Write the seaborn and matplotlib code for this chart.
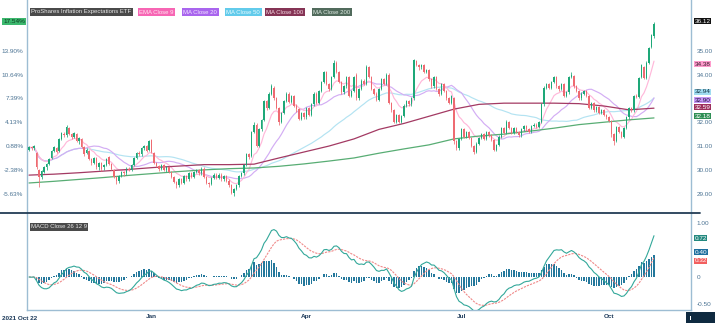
import numpy as np
import pandas as pd
import matplotlib
matplotlib.use("Agg")
import matplotlib.pyplot as plt
import seaborn as sns
from matplotlib.patches import Rectangle

# ---------------- data ----------------
opens = [30.85, 30.95, 30.9, 30.7, 30.0, 29.7, 29.9, 30.1, 30.25, 30.5,
         30.8, 30.9, 30.8, 31.3, 31.5, 31.45, 31.75, 31.5, 31.4, 31.5,
         31.2, 31.3, 30.95, 30.7, 30.8, 30.45, 30.3, 30.5, 30.1, 30.3,
         30.1, 30.2, 30.55, 30.25, 30.0, 29.7, 29.55, 29.75, 29.9, 29.85,
         30.05, 30.0, 30.2, 30.5, 30.7, 30.65, 30.9, 31.0, 30.85, 31.25,
         30.7, 30.3, 30.15, 30.05, 30.2, 30.0, 30.1, 29.9, 29.7, 29.5,
         29.35, 29.6, 29.45, 29.75, 29.6, 29.85, 29.7, 29.9, 30.0, 29.85,
         30.05, 29.7, 29.45, 29.4, 29.65, 29.8, 29.65, 29.8, 29.6, 29.75,
         29.55, 29.35, 29.05, 29.2, 29.35, 29.75, 29.85, 30.2, 30.65, 30.6,
         31.6, 31.9, 31.0, 31.7, 32.1, 32.9, 32.6, 33.2, 33.45, 33.0,
         32.6, 32.0, 32.4, 32.9, 33.2, 32.85, 33.1, 32.7, 32.55, 32.15,
         32.4, 32.2, 32.6, 32.3, 32.75, 33.2, 32.8, 33.3, 33.7, 34.1,
         33.6, 33.4, 33.9, 34.5, 34.1, 33.7, 33.25, 33.5, 33.9, 33.1,
         33.3, 34.0, 33.0, 33.4, 33.75, 33.6, 34.3, 33.9, 33.4, 33.2,
         32.95, 33.4, 33.8, 33.6, 34.0, 32.8, 32.5, 32.0, 32.3, 32.0,
         32.25, 32.7, 32.9, 32.75, 33.0, 34.55, 34.4, 34.3, 34.4, 34.1,
         34.2, 33.8, 33.5, 33.9, 33.4, 33.2, 33.6, 33.3, 33.0, 32.8,
         33.0, 31.2, 30.9, 31.3, 31.7, 31.4, 31.6, 31.35, 31.0, 30.75,
         31.1, 31.35, 31.5, 31.3, 31.6, 31.45, 31.25, 30.85, 31.05, 31.4,
         31.75, 31.55, 32.0, 31.75, 31.55, 31.75, 31.6, 31.45, 31.7, 31.85,
         31.7, 31.6, 31.85, 31.9, 31.8, 32.0, 32.75, 33.45, 33.6, 33.45,
         33.7, 33.9, 33.5, 33.4, 33.6, 33.1, 33.25, 33.9, 33.95, 33.5,
         33.3, 33.0, 33.2, 33.3, 33.1, 32.6, 32.8, 32.5, 32.65, 32.4,
         32.5, 32.3, 32.2, 32.05, 31.5, 31.2, 31.8, 31.6, 31.4, 31.75,
         32.2, 32.6, 32.5, 33.1, 33.05, 33.9, 34.3, 33.85, 34.5, 35.15,
         35.6]
closes = [30.95, 30.9, 31.0, 30.1, 29.7, 29.95, 30.1, 30.25, 30.45, 30.8,
          30.95, 30.75, 31.3, 31.55, 31.45, 31.8, 31.5, 31.4, 31.55, 31.2,
          31.35, 30.95, 30.65, 30.85, 30.45, 30.3, 30.5, 30.1, 30.3, 30.05,
          30.2, 30.45, 30.25, 30.05, 29.7, 29.55, 29.75, 29.9, 29.85, 30.05,
          30.0, 30.2, 30.5, 30.7, 30.65, 30.9, 31.0, 30.8, 31.2, 30.75,
          30.3, 30.15, 30.05, 30.2, 30.0, 30.1, 29.9, 29.7, 29.5, 29.35,
          29.6, 29.45, 29.75, 29.6, 29.85, 29.7, 29.9, 30.0, 29.85, 30.05,
          29.7, 29.45, 29.4, 29.65, 29.8, 29.65, 29.8, 29.6, 29.75, 29.55,
          29.35, 29.05, 29.2, 29.35, 29.75, 29.85, 30.2, 30.65, 30.55, 31.6,
          31.9, 31.0, 31.7, 32.1, 32.9, 32.6, 33.2, 33.5, 33.0, 32.6,
          32.0, 32.4, 32.9, 33.2, 32.85, 33.1, 32.7, 32.55, 32.15, 32.4,
          32.2, 32.6, 32.3, 32.75, 33.2, 32.8, 33.3, 33.7, 34.1, 33.6,
          33.4, 33.9, 34.5, 34.1, 33.7, 33.25, 33.5, 33.9, 33.1, 33.3,
          33.9, 33.0, 33.4, 33.75, 33.6, 34.3, 33.9, 33.4, 33.2, 32.95,
          33.4, 33.8, 33.6, 34.0, 32.8, 32.5, 32.0, 32.3, 32.0, 32.25,
          32.7, 32.9, 32.75, 33.0, 34.6, 34.4, 34.3, 34.4, 34.1, 34.2,
          33.8, 33.5, 33.9, 33.4, 33.2, 33.6, 33.3, 33.0, 32.8, 33.1,
          31.2, 30.9, 31.3, 31.7, 31.4, 31.6, 31.35, 31.0, 30.75, 31.1,
          31.35, 31.5, 31.3, 31.6, 31.45, 31.25, 30.85, 31.05, 31.4, 31.75,
          31.55, 32.0, 31.75, 31.55, 31.75, 31.6, 31.45, 31.7, 31.85, 31.7,
          31.6, 31.85, 31.9, 31.8, 32.0, 32.75, 33.45, 33.6, 33.45, 33.7,
          33.9, 33.5, 33.4, 33.6, 33.1, 33.25, 33.9, 34.0, 33.5, 33.3,
          33.0, 33.2, 33.3, 33.1, 32.6, 32.8, 32.5, 32.65, 32.4, 32.5,
          32.3, 32.2, 32.05, 31.5, 31.2, 31.8, 31.6, 31.4, 31.75, 32.2,
          32.6, 32.5, 33.1, 33.05, 33.85, 34.4, 33.85, 34.5, 35.1, 35.65,
          36.12]
highs = [31.0, 31.0, 31.05, 30.75, 30.05, 30.0, 30.15, 30.3, 30.5, 30.85,
         31.0, 30.95, 31.35, 31.6, 31.6, 31.9, 31.8, 31.55, 31.6, 31.55,
         31.4, 31.35, 31.0, 30.9, 30.85, 30.5, 30.55, 30.55, 30.35, 30.35,
         30.25, 30.5, 30.6, 30.3, 30.05, 29.75, 29.8, 29.95, 29.95, 30.1,
         30.1, 30.25, 30.55, 30.75, 30.8, 30.95, 31.05, 31.05, 31.25, 31.3,
         30.75, 30.35, 30.2, 30.25, 30.25, 30.15, 30.15, 29.95, 29.75, 29.55,
         29.65, 29.65, 29.8, 29.8, 29.9, 29.9, 29.95, 30.05, 30.05, 30.1,
         30.1, 29.75, 29.5, 29.7, 29.85, 29.85, 29.85, 29.85, 29.8, 29.8,
         29.6, 29.4, 29.25, 29.4, 29.8, 29.9, 30.25, 30.7, 30.7, 31.65,
         32.0, 31.95, 31.75, 32.15, 32.95, 32.95, 33.25, 33.6, 33.5, 33.05,
         32.65, 32.45, 32.95, 33.25, 33.25, 33.15, 33.15, 32.75, 32.6, 32.45,
         32.45, 32.65, 32.65, 32.8, 33.25, 33.25, 33.35, 33.75, 34.15, 34.15,
         33.65, 33.95, 34.6, 34.55, 34.15, 33.75, 33.55, 33.95, 33.95, 33.35,
         33.95, 34.05, 33.45, 33.8, 33.8, 34.4, 34.35, 33.95, 33.45, 33.25,
         33.45, 33.85, 33.85, 34.05, 34.05, 32.85, 32.55, 32.35, 32.35, 32.3,
         32.75, 32.95, 32.95, 33.05, 34.65, 34.6, 34.45, 34.45, 34.45, 34.25,
         34.25, 33.85, 33.95, 33.95, 33.45, 33.65, 33.65, 33.35, 33.05, 33.15,
         33.05, 31.25, 31.35, 31.75, 31.75, 31.65, 31.65, 31.4, 31.05, 31.15,
         31.4, 31.55, 31.55, 31.65, 31.65, 31.5, 31.3, 31.1, 31.45, 31.8,
         31.8, 32.1, 32.05, 31.8, 31.8, 31.8, 31.65, 31.75, 31.9, 31.9,
         31.75, 31.9, 31.95, 31.95, 32.05, 32.8, 33.5, 33.65, 33.65, 33.75,
         33.95, 33.95, 33.55, 33.65, 33.65, 33.3, 33.95, 34.1, 34.0, 33.55,
         33.35, 33.25, 33.35, 33.35, 33.15, 32.85, 32.85, 32.7, 32.7, 32.55,
         32.55, 32.35, 32.25, 32.1, 31.55, 31.85, 31.85, 31.65, 31.8, 32.25,
         32.65, 32.65, 33.15, 33.2, 33.9, 34.45, 34.35, 34.55, 35.15, 35.7,
         36.2]
lows = [30.8, 30.85, 30.85, 30.05, 29.3, 29.6, 29.85, 30.0, 30.2, 30.45,
        30.75, 30.7, 30.75, 31.25, 31.4, 31.4, 31.45, 31.3, 31.35, 31.15,
        31.1, 30.9, 30.6, 30.65, 30.4, 30.2, 30.25, 30.05, 30.0, 29.95,
        30.0, 30.15, 30.2, 30.0, 29.65, 29.4, 29.45, 29.7, 29.75, 29.8,
        29.95, 29.95, 30.15, 30.45, 30.6, 30.6, 30.85, 30.75, 30.8, 30.7,
        30.25, 30.1, 29.95, 30.0, 29.95, 29.9, 29.85, 29.65, 29.45, 29.25,
        29.3, 29.4, 29.4, 29.55, 29.55, 29.65, 29.65, 29.85, 29.8, 29.8,
        29.65, 29.4, 29.3, 29.35, 29.6, 29.6, 29.6, 29.55, 29.55, 29.5,
        29.3, 29.0, 28.9, 29.15, 29.3, 29.7, 29.8, 30.15, 30.45, 30.55,
        31.55, 30.95, 30.95, 31.65, 32.05, 32.5, 32.55, 33.15, 32.95, 32.55,
        31.9, 31.95, 32.35, 32.85, 32.8, 32.8, 32.65, 32.45, 32.1, 32.1,
        32.15, 32.15, 32.25, 32.25, 32.7, 32.75, 32.75, 33.25, 33.65, 33.55,
        33.3, 33.35, 33.85, 34.05, 33.65, 33.2, 33.2, 33.45, 33.05, 33.05,
        33.25, 32.95, 32.95, 33.35, 33.55, 33.55, 33.85, 33.35, 33.15, 32.9,
        32.9, 33.35, 33.55, 33.55, 32.75, 32.45, 31.95, 31.95, 31.95, 31.95,
        32.2, 32.65, 32.7, 32.7, 32.95, 34.35, 34.2, 34.25, 34.05, 34.05,
        33.75, 33.45, 33.45, 33.35, 33.1, 33.15, 33.25, 32.95, 32.75, 32.75,
        31.1, 30.85, 30.85, 31.25, 31.35, 31.35, 31.3, 30.95, 30.65, 30.7,
        31.05, 31.3, 31.25, 31.25, 31.4, 31.2, 30.8, 30.8, 31.0, 31.35,
        31.5, 31.5, 31.7, 31.5, 31.5, 31.55, 31.4, 31.4, 31.65, 31.65,
        31.55, 31.55, 31.8, 31.75, 31.75, 31.95, 32.7, 33.4, 33.4, 33.4,
        33.65, 33.45, 33.3, 33.35, 33.05, 33.05, 33.2, 33.85, 33.45, 33.25,
        32.95, 32.95, 33.15, 33.05, 32.55, 32.55, 32.45, 32.45, 32.35, 32.35,
        32.25, 32.15, 32.0, 31.4, 31.05, 31.15, 31.55, 31.35, 31.35, 31.7,
        32.15, 32.45, 32.45, 33.0, 33.0, 33.85, 33.8, 33.8, 34.45, 35.1,
        35.55]

# MA 100 / MA 200 every 10 bars
ma_long_idx = [0, 10, 20, 30, 40, 50, 60, 70, 80, 90, 100, 110, 120,
               130, 140, 150, 160, 170, 180, 190, 200, 210, 220, 230, 240, 250]
ma100_vals = [29.78, 29.82, 29.88, 29.95, 30.02, 30.1, 30.16, 30.22, 30.22, 30.24,
              30.5, 30.75, 31.0, 31.3, 31.7, 31.95, 32.25, 32.55, 32.75, 32.8,
              32.8, 32.8, 32.78, 32.68, 32.52, 32.59]
ma200_vals = [29.45, 29.52, 29.6, 29.68, 29.77, 29.85, 29.93, 30.0, 30.05, 30.08,
              30.15, 30.25, 30.37, 30.5, 30.7, 30.88, 31.05, 31.3, 31.42, 31.5,
              31.62, 31.75, 31.9, 32.0, 32.1, 32.18]

month_labels = ["Jan", "Apr", "Jul", "Oct"]
month_idx = [49, 111, 173, 232]
first_label = "2021 Oct 22"
pct_ticks = [-5.63, -2.38, 0.88, 4.13, 7.39, 10.64, 13.90]
pct_base = 30.73
price_ticks = [29, 30, 31, 32, 34, 35]   # 33.00 is hidden behind the value tags
macd_ticks = [-0.5, 0, 1.0]
macd_tick_labels = ["-0.50", "0", "1.00"]
legend_names = ["ProShares Inflation Expectations ETF", "EMA Close 9", "MA Close 20",
                "MA Close 50", "MA Close 100", "MA Close 200"]
last_price = 36.12
last_pct = 17.54
ma_last = [34.38, 32.94, 32.90, 32.59, 32.18]     # EMA9, MA50, MA20, MA100, MA200
macd_last = [0.72, 0.40, 0.32]                    # MACD, histogram, signal

# ---------------- style ----------------
sns.set_theme(style="white")
plt.rcParams["font.family"] = ["Liberation Sans", "DejaVu Sans"]

W, H = 715, 327
fig = plt.figure(figsize=(W / 100, H / 100), dpi=100)
fig.patch.set_facecolor("white")

def rect(x0, y0, x1, y1):
    return [x0 / W, 1 - y1 / H, (x1 - x0) / W, (y1 - y0) / H]

ax = fig.add_axes(rect(27, 0, 691, 213))
axm = fig.add_axes(rect(27, 213, 691, 310), sharex=ax)

GREEN = "#1ea878"
RED = "#ee6b72"
AXC = "#9dbdd3"
TXT = "#4b7393"
FS = 4.6
FS_CHIP = 4.35

o = np.array(opens); c = np.array(closes); h = np.array(highs); l = np.array(lows)
n = len(c)
idx = np.arange(n)
up = c >= o
cols = np.where(up, GREEN, RED)

# wicks + bodies
ax.vlines(idx, l, h, colors=cols, linewidth=0.55, zorder=3)
body_h = np.maximum(np.abs(c - o), 0.03)
ax.bar(idx, body_h, bottom=np.minimum(o, c), width=0.7, color=cols, linewidth=0, zorder=4)

s = pd.Series(c)
ema9 = s.ewm(span=9, adjust=False).mean()
ma20 = s.rolling(20, min_periods=1).mean()
ma50 = s.rolling(50, min_periods=1).mean()

sns.lineplot(x=idx, y=ma50.values, ax=ax, color="#b3e3f2", linewidth=0.85, zorder=2)
sns.lineplot(x=idx, y=ma20.values, ax=ax, color="#d3adf4", linewidth=0.85, zorder=2)
sns.lineplot(x=idx, y=ema9.values, ax=ax, color="#ffb8da", linewidth=0.85, zorder=2)
sns.lineplot(x=ma_long_idx, y=ma100_vals, ax=ax, color="#a33a63", linewidth=0.9, zorder=2)
sns.lineplot(x=ma_long_idx, y=ma200_vals, ax=ax, color="#58ad74", linewidth=0.9, zorder=2)

ax.set_xlim(-0.8, 264.8)
ax.set_ylim(28.19, 37.13)

# left percent axis
ax.set_yticks([pct_base * (1 + p / 100) for p in pct_ticks])
ax.set_yticklabels([f"{p:.2f}%" for p in pct_ticks], fontsize=FS, color=TXT)
ax.tick_params(axis="y", length=0, pad=2.5)
ax.tick_params(axis="x", length=0, labelbottom=False)
for sp in ["top", "bottom"]:
    ax.spines[sp].set_visible(False)
for sp in ["left", "right"]:
    ax.spines[sp].set_color(AXC)
    ax.spines[sp].set_linewidth(1.0)

axr = ax.twinx()
axr.set_ylim(ax.get_ylim())
axr.set_yticks(price_ticks)
axr.set_yticklabels([f"{v:.2f}" for v in price_ticks], fontsize=FS, color=TXT)
axr.tick_params(axis="y", length=0, pad=4)
for sp in axr.spines.values():
    sp.set_visible(False)
ax.grid(False); axr.grid(False)

# ---------------- MACD ----------------
ema12 = s.ewm(span=12, adjust=False).mean()
ema26 = s.ewm(span=26, adjust=False).mean()
macd = ema12 - ema26
signal = macd.ewm(span=9, adjust=False).mean()
hist = macd - signal

axm.bar(idx, hist.values, width=0.65, color="#24789c", linewidth=0, zorder=2)
sns.lineplot(x=idx, y=signal.values, ax=axm, color="#f08a8a", linewidth=0.8,
             linestyle=(0, (2, 1)), zorder=3)
sns.lineplot(x=idx, y=macd.values, ax=axm, color="#33a89a", linewidth=0.8, zorder=4)
axm.set_ylim(-0.611, 1.185)
axm.set_yticks([])
axm.grid(False)
axm.spines["top"].set_visible(False)
for sp in ["left", "right", "bottom"]:
    axm.spines[sp].set_color(AXC)
    axm.spines[sp].set_linewidth(1.0)

axmr = axm.twinx()
axmr.set_ylim(axm.get_ylim())
axmr.set_yticks(macd_ticks)
axmr.set_yticklabels(macd_tick_labels, fontsize=FS, color=TXT)
axmr.tick_params(axis="y", length=0, pad=4)
for sp in axmr.spines.values():
    sp.set_visible(False)

axm.set_xticks(month_idx)
axm.set_xticklabels(month_labels, fontsize=FS, color="#1d3a5a", fontweight="bold")
axm.tick_params(axis="x", length=0, pad=3)
fig.text(2 / W, 1 - 318 / H, first_label, fontsize=FS, color="#1d3a5a",
         fontweight="bold", ha="left", va="center")

# separator line between panes
fig.add_artist(plt.Line2D([0, 700 / W], [1 - 213 / H, 1 - 213 / H],
                          transform=fig.transFigure, color="#233d55", linewidth=1.3))

# ---------------- tags ----------------
def rtag(axis, val, text, bg, fg, dy=0):
    axis.annotate(text, xy=(1, val), xycoords=("axes fraction", "data"),
                  xytext=(2.5, dy), textcoords="offset points", fontsize=FS,
                  color=fg, ha="left", va="center", annotation_clip=False, zorder=10,
                  bbox=dict(boxstyle="square,pad=0.08", fc=bg, ec="none"))

rtag(axr, last_price, f"{last_price:.2f}", "#111111", "white", 2)
tag_cols = [("#ff9ccd", "#3a1a2a", 1), ("#9fdcf0", "#123040", 5.8),
            ("#c497f5", "#2a1540", 0.4), ("#9c2f5c", "white", 0.6), ("#2f8f55", "white", 1.3)]
for v, (bg, fg, dy) in zip(ma_last, tag_cols):
    rtag(axr, v, f"{v:.2f}", bg, fg, dy)

ax.annotate(f"{last_pct:.2f}%", xy=(0, last_price), xycoords=("axes fraction", "data"),
            xytext=(-1.5, 2), textcoords="offset points", fontsize=FS, color="#0b3a1f",
            ha="right", va="center", annotation_clip=False, zorder=10,
            bbox=dict(boxstyle="square,pad=0.12", fc="#3cb86e", ec="none"))

macd_tag_cols = [("#23897f", "white", 0), ("#1f6f9e", "white", 2.2), ("#f25f5f", "white", -0.6)]
for v, (bg, fg, dy) in zip(macd_last, macd_tag_cols):
    rtag(axmr, v, f"{v:.2f}", bg, fg, dy)

# legend chips
leg_x = [30, 138, 182, 225, 265, 312]
leg_bg = ["#4a4a4a", "#f766b4", "#a965ee", "#62cbeb", "#853455", "#516b5c"]
leg_fg = ["#e6e6e6", "#ffe6f2", "#f2e6ff", "#e8fbff", "#f5dbe4", "#e0ebe4"]
for x0, name, bg, fg in zip(leg_x, legend_names, leg_bg, leg_fg):
    fig.text(x0 / W + 0.002, 1 - 12 / H, name, fontsize=FS_CHIP, color=fg, ha="left",
             va="center", bbox=dict(boxstyle="square,pad=0.22", fc=bg, ec="none"))

fig.text(31 / W, 1 - 227 / H, "MACD Close 26 12 9", fontsize=FS_CHIP, color="#e6e6e6",
         ha="left", va="center", bbox=dict(boxstyle="square,pad=0.22", fc="#4a4a4a", ec="none"))

# bottom-right navigation chip
fig.add_artist(Rectangle((686 / W, 1 - 323 / H), 29 / W, 11 / H,
                         transform=fig.transFigure, facecolor="#0f2a40", edgecolor="none"))
fig.add_artist(Rectangle((690 / W, 1 - 319.5 / H), 1.2 / W, 4 / H,
                         transform=fig.transFigure, facecolor="white", edgecolor="none"))

fig.savefig("out.png", dpi=100)
